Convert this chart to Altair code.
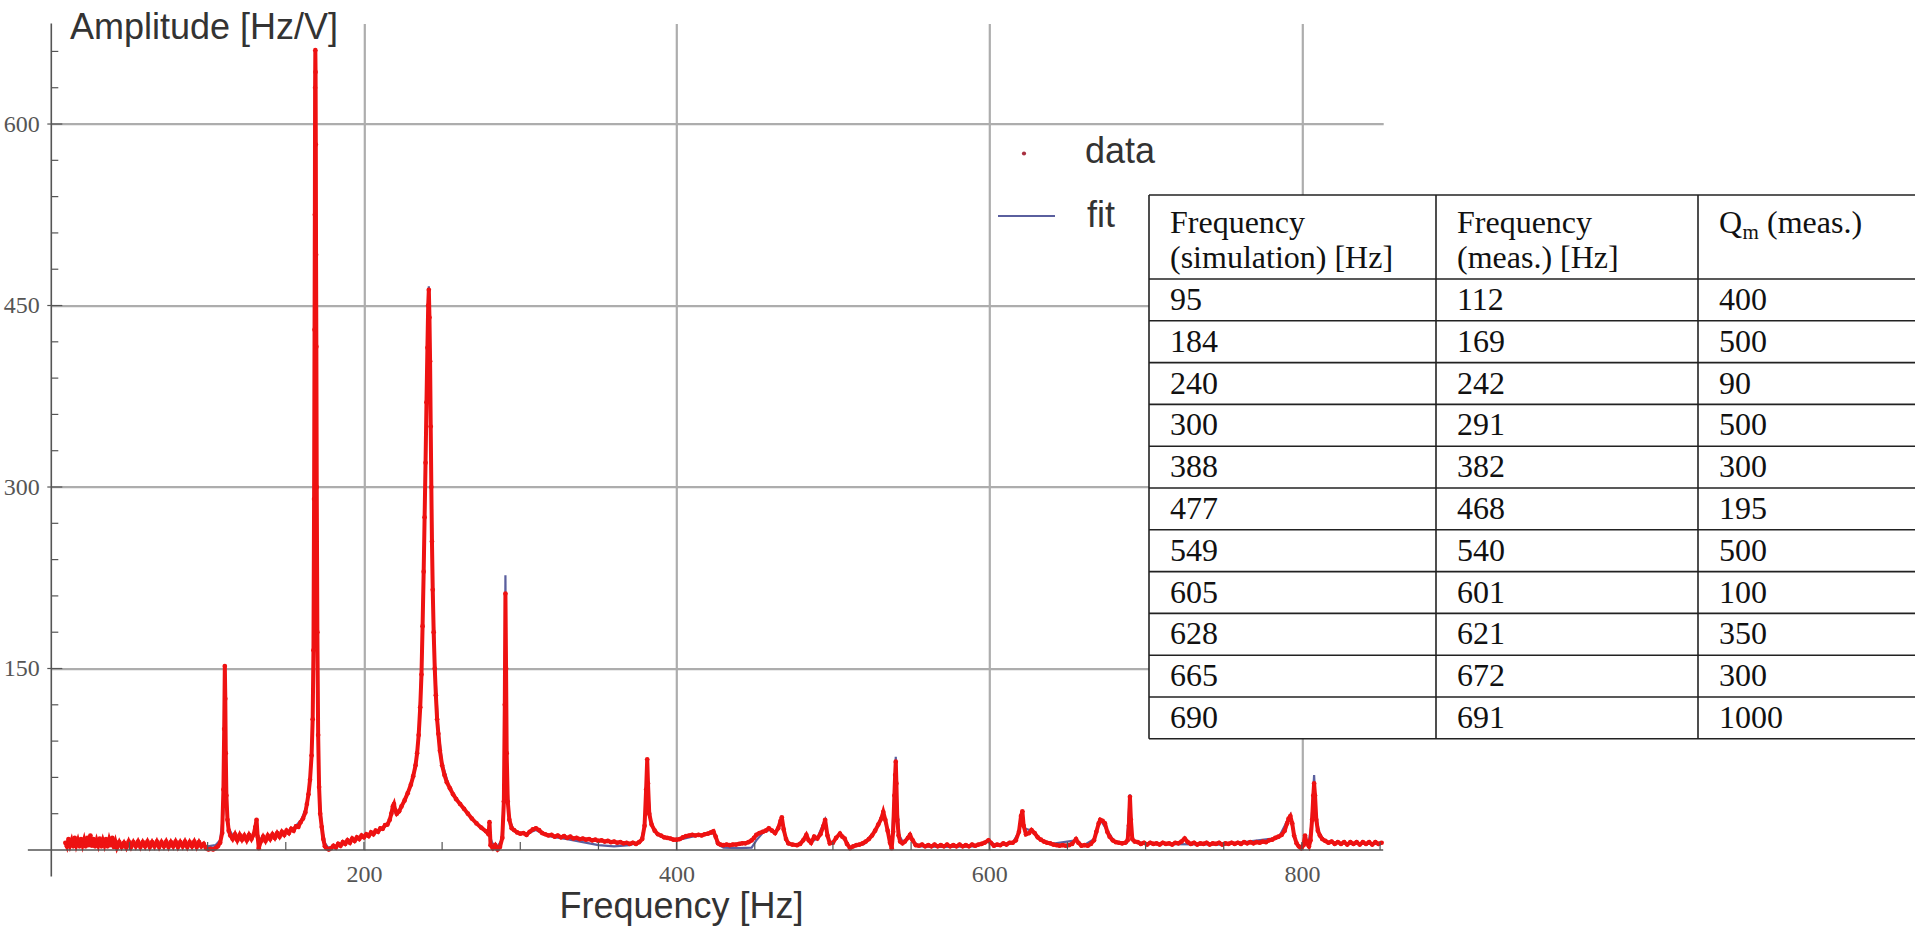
import altair as alt
import pandas as pd

# ---------------- data ----------------
data_freq = [
    9, 10, 11, 12, 13, 14, 15, 16, 17, 18,
    19, 20, 21, 22, 23, 24, 25, 26, 27, 28,
    29, 30, 31, 32, 33, 34, 35, 36, 37, 38,
    39, 40, 41, 42, 43.5, 45, 46.5, 48, 49.5, 51,
    52.5, 54, 55.5, 57, 58.5, 60, 61.5, 63, 64.5, 66,
    67.5, 69, 70.5, 72, 73.5, 75, 76.5, 78, 79.5, 81,
    82.5, 84, 85.5, 87, 88.5, 90, 91.5, 93, 94.5, 96,
    97.5, 99,
    100.5, 102, 103.5, 105, 106.5, 108, 109.3, 110.1, 110.6, 111,
    111.3, 111.6, 112, 112.7, 113.5, 114.5, 116, 117.5, 119, 120.5,
    122, 123.5, 125, 126.5, 128, 129.5, 130.5, 131.3, 132, 132.7,
    134, 135.5, 137, 138.5, 140, 141.5, 143, 144.5, 146, 147.5,
    149, 150.5, 152, 153.5, 155, 156.5, 158, 159.5, 161, 162.5,
    163.5, 164.5, 165.5, 166.5, 167.2, 167.7, 168.1, 168.4, 168.6, 168.75,
    168.9, 169.05, 169.2, 169.35, 169.55, 169.8, 170.2, 170.7, 171.3, 172,
    173, 174, 175, 176, 177.5, 179, 180.5, 182, 183.5, 185,
    186.5, 188, 189.5, 191, 192.5, 194, 195.5, 197, 198.5, 200,
    201.5, 203, 204.5, 206, 207.5, 209, 210.5, 212, 213.5, 215,
    216.5, 217.5, 218.5, 219.2, 220, 221, 222.5, 224, 226, 228,
    230, 231.5, 233, 234, 235, 236, 236.8, 237.5, 238.2, 238.8,
    239.4, 240, 240.6, 241.1, 241.5, 241.9, 242.3, 242.7, 243.1, 243.5,
    244, 244.6, 245.3, 246, 246.8, 247.6, 248.6, 250, 251.5, 253,
    255, 257, 259, 261.5, 264, 266.5, 269, 272, 275, 278,
    279.7, 280.3, 281, 282.5, 284, 285.5, 287, 288.5, 289.5, 290.1,
    290.5, 290.9, 291.3, 292, 293, 294.5, 296, 298, 300, 302,
    304, 306, 308, 310, 312, 314, 316, 318, 320, 322,
    324, 326, 328, 330, 332, 334, 336, 338, 340, 342,
    344, 346, 348, 350, 352, 354, 356, 358, 360, 362,
    364, 366, 368, 370, 372, 374, 376, 378, 379.5, 380.5,
    381.2, 381.7, 382.5, 384, 386, 388, 390, 392, 394, 396,
    398, 400, 402, 404, 406, 408, 410, 412, 414, 416,
    418, 420, 422, 423.5, 425, 426.5, 428, 430, 432, 434,
    436, 438, 440, 442, 444, 446, 448, 449.5, 451, 453,
    455, 457, 459, 461, 463, 465, 466.5, 467.3, 468.5, 470,
    471.5, 474, 477, 479, 481, 483, 484.5, 486, 488, 490,
    492, 494, 495, 496.5, 498, 500, 502, 504.5, 506, 507.5,
    509, 511, 513, 515, 517, 519, 521, 523, 525, 527,
    529, 531, 532.2, 533.5, 535, 536.5, 537.6, 538.5, 539.3, 539.8,
    540.2, 540.6, 541.2, 542, 543, 544.5, 546, 548, 549.3, 551,
    553, 555, 557, 559, 561, 563, 565, 567, 569, 571,
    573, 575, 577, 579, 581, 583, 585, 587, 589, 591,
    593, 595, 597, 599.5, 601, 603, 605, 607, 609, 611,
    613, 615, 617, 619, 620.3, 621.2, 622, 623.5, 625.5, 627,
    629, 631, 633, 635, 637, 639, 641, 643, 645, 647,
    649, 651, 653, 655.5, 657, 659, 661, 663, 665, 667,
    668.5, 670, 671, 672.5, 674, 675.5, 677, 679, 681, 683,
    685, 687, 688.5, 689.3, 690, 690.6, 691.5, 693, 695, 697,
    699, 701, 703, 705, 707, 709, 711, 713, 715, 717,
    719, 721, 723, 725, 727, 729, 731, 733, 735, 737,
    739, 741, 743, 745, 747, 749, 751, 753, 755, 757,
    759, 761, 763, 765, 767, 769, 771, 773, 775, 777,
    779, 781, 783, 785, 787, 789, 790.5, 791.5, 792.6, 793.8,
    795, 796.6, 798, 799.5, 801, 802, 803, 804.5, 805.5, 806.5,
    807.3, 807.8, 808.4, 809.2, 810.2, 811.5, 813, 815, 817, 819,
    821, 823, 825, 827, 829, 831, 833, 835, 837, 839,
    841, 843, 845, 847, 849, 851,
]
data_amp = [
    6, 3, 9, 4, 8, 3, 10, 4, 8, 3,
    9, 4, 8.5, 3, 10, 4, 12, 3.5, 9, 3,
    8, 4, 9.5, 3, 8, 4, 9, 3, 8.5, 4,
    10, 2.5, 7, 2, 6.5, 2.5, 6, 2, 7, 2.5,
    6.5, 3, 7, 2.5, 6.5, 3, 7, 2.5, 6.5, 3,
    7, 2.5, 6.5, 3, 7, 2.5, 6.5, 3, 7, 2.5,
    6.5, 3, 7, 2.5, 6.5, 3, 7, 2.5, 6.5, 3,
    5, 1.5,
    0.5, 1, 0.5, 1.5, 3, 6, 14, 50, 100, 152,
    125, 80, 45, 25, 16, 12, 9, 13, 8, 12.5,
    8.5, 12, 8, 12.5, 9, 13, 19, 25, 11, 1.5,
    7, 11, 7.5, 12, 9, 13, 10, 14, 11, 15,
    12.5, 16, 14, 17.5, 16, 19.5, 19, 23, 26, 31,
    38, 46, 58, 78, 108, 165, 290, 430, 525, 630,
    661, 643, 583, 492, 416, 300, 180, 95, 52, 30,
    19, 9, 3, 1.5, 0.5, 1.5, 3.5, 2, 5, 3.5,
    6.5, 5, 8, 6, 9.5, 7.5, 10.5, 9, 12, 10.5,
    13, 11.5, 14.5, 13, 16, 15, 18, 17.5, 20.5, 21,
    25, 30, 36, 38, 33, 30, 32, 36, 41, 47,
    54, 61, 70, 80, 95, 118, 145, 185, 230, 275,
    320, 370, 415, 450, 463, 440, 404, 350, 300, 255,
    215, 180, 150, 128, 108, 96, 82, 70, 62, 56,
    51, 46, 42, 38, 34, 30, 26, 22, 18.5, 15.5,
    13, 23, 4, 1.5, 4, 0.5, 2.5, 10, 40, 120,
    212, 150, 80, 40, 25, 18, 16.5, 14.5, 13.5, 14,
    12.5, 15, 17, 18, 16.5, 14, 13, 12, 12.5, 11,
    12, 10.5, 11.5, 10, 11, 9.5, 10, 9, 9.5, 8.5,
    9, 8, 8.5, 7.5, 8, 7, 7.5, 6.5, 7, 6,
    6.5, 5.5, 6, 5, 6, 5, 6.5, 9, 20, 50,
    75, 55, 30, 21, 16, 13, 12, 10.5, 10, 9.5,
    8.5, 8.5, 9, 10.5, 11.5, 12, 12.5, 12, 12.5, 12,
    13, 13.5, 14.5, 15.5, 11, 5.5, 4.5, 4, 4.5, 4,
    4.5, 4.5, 5, 5.5, 5.5, 6.5, 8, 10, 12.5, 14,
    15, 16, 18, 16, 14, 18, 24, 27, 17, 9,
    5.5, 4.5, 4, 5, 8, 12.5, 8, 6, 11, 9.5,
    13, 20, 25, 12, 5.5, 6, 10, 13.5, 11, 9.5,
    5, 1.5, 3, 4, 4.5, 5.5, 7, 9, 12, 16,
    21, 26, 31.5, 25, 16, 6, 1.5, 15, 45, 62,
    73, 55, 25, 12, 7, 5.5, 7, 10, 12.5, 8,
    4, 3.5, 4.5, 3, 4, 3, 4.5, 3, 4, 3,
    4.5, 3, 4, 3, 4.5, 3, 4, 3, 4.5, 3.5,
    4.5, 5, 6, 8, 6, 3.5, 4.5, 4, 5.5, 4.5,
    6, 6, 8, 15, 28, 32, 20, 13, 14, 16.5,
    14, 10.5, 8.5, 7, 6, 5.5, 4.5, 4, 3.5, 4,
    3.5, 4, 5, 9, 6, 3.5, 4, 3.5, 5, 8,
    15, 22, 25, 24, 22, 15, 11, 8, 6.5, 6,
    5.5, 6, 8, 20, 44, 25, 9, 7, 6.5, 5,
    6, 4.5, 6, 5, 5.5, 4.5, 6, 5, 5.5, 4.5,
    6, 5.5, 7, 9.5, 6.5, 5, 6, 4.5, 5.5, 5,
    6, 4.5, 5.5, 5, 6, 4.5, 5.5, 5, 6, 5,
    6, 5, 6.5, 5.5, 6.5, 5.5, 6.5, 6, 7, 6.5,
    8, 8.5, 10, 11, 12.5, 16, 22, 26, 28, 22,
    12, 5.5, 3, 1.5, 4, 12, 6, 3, 8, 25,
    45, 55, 45, 25, 16, 12, 9, 7.5, 6, 7,
    5, 6.5, 5, 6.5, 4.5, 6.5, 5, 6.5, 4.5, 6.5,
    5, 6.5, 4.5, 6.5, 5, 6,
]

fit_freq = [
    9, 30, 60, 95, 100, 105, 108, 110, 110.7, 111.1,
    111.5, 112.2, 113.5, 116, 120, 125, 129, 130.5, 131.3, 132.2,
    135, 140, 145, 150, 155, 160, 163, 165, 166.5, 167.5,
    168.2, 168.6, 168.9, 169.2, 169.6, 170.2, 171, 172, 173.5, 175,
    177, 180, 185, 190, 195, 200, 205, 210, 215, 218,
    219, 220.5, 223, 226, 230, 233, 235, 237, 238.5, 240,
    241, 241.5, 242, 243, 244, 245.5, 247.5, 250, 255, 260,
    265, 270, 275, 280, 282, 285, 288, 289.5, 290.2, 290.5,
    290.9, 291.5, 293, 296, 300, 305, 310, 315, 320, 330,
    340, 350, 360, 370, 377, 379.5, 380.7, 381.3, 382, 383.5,
    386, 390, 400, 410, 420, 424, 426, 430, 440, 448,
    451, 455, 460, 463, 466, 467.3, 468.5, 471, 477, 483,
    486, 490, 495, 497, 500, 504, 508, 511, 520, 528,
    532, 535, 537.5, 539, 540.2, 541, 542.5, 545, 549, 552,
    556, 570, 590, 600, 605, 615, 619, 621, 622.5, 627,
    631, 640, 655, 660, 667, 671, 675, 680, 688, 690,
    691.5, 700, 750, 785, 791, 792.6, 794.5, 797, 800, 802,
    804, 806, 807.8, 809, 811, 815, 830, 851,
]
fit_amp = [
    5, 5, 4.5, 4, 3, 4, 8, 30, 95, 150,
    90, 35, 18, 12, 10, 10, 11, 16, 22, 10,
    9, 10.5, 12, 14.5, 18, 25, 35, 50, 75, 130,
    300, 520, 652, 520, 330, 160, 70, 35, 15, 6,
    2, 2.5, 5, 7, 9, 11, 13.5, 16, 21, 30,
    35, 30, 34, 40, 53, 68, 92, 160, 255, 370,
    445, 466, 445, 320, 220, 150, 100, 72, 50, 40,
    32, 25, 19, 14, 6, 2, 8, 40, 150, 227,
    140, 60, 25, 16, 13.5, 14, 16.5, 13, 11, 9,
    6.5, 4, 3, 4, 7, 20, 60, 76, 45, 22,
    15, 11, 8, 11, 13, 14, 5, 2, 1.5, 2,
    8, 14, 17, 14, 22, 28, 15, 5, 3.5, 11,
    6, 10, 25, 8, 6, 13, 8, 2, 5, 18,
    31, 15, 3, 40, 77, 40, 12, 6, 12, 6,
    3, 2.5, 3, 7, 3.5, 6, 15, 33, 18, 16,
    10, 5, 8, 3.5, 9, 25, 17, 7, 6, 46,
    8, 5, 4.5, 10, 25, 29, 15, 4, 2, 10,
    4, 20, 62, 30, 14, 7, 5, 5,
]
assert len(data_freq) == len(data_amp)
assert len(fit_freq) == len(fit_amp)

x_label_values = [200, 400, 600, 800]
y_label_values = [150, 300, 450, 600]
x_tick_values = [50, 100, 150, 200, 250, 300, 350, 400, 450, 500,
                 550, 600, 650, 700, 750, 800, 850]
y_minor_ticks = [30, 60, 90, 120, 180, 210, 240, 270, 330, 360, 390, 420,
                 480, 510, 540, 570, 630, 660]
y_major_ticks = [150, 300, 450, 600]

legend_labels = ["data", "fit"]

header_col1 = ["Frequency", "(simulation) [Hz]"]
header_col2 = ["Frequency", "(meas.) [Hz]"]
header_col3 = ["Q", "m", "(meas.)"]
sim_freq = ["95", "184", "240", "300", "388", "477", "549", "605", "628", "665", "690"]
meas_freq = ["112", "169", "242", "291", "382", "468", "540", "601", "621", "672", "691"]
q_meas = ["400", "500", "90", "500", "300", "195", "500", "100", "350", "300", "1000"]

# ---------------- layout / style ----------------
LEFT, TOP = 51.3, 23.6
X_MIN, X_MAX = 0, 852
Y_MIN, Y_MAX = 0, 683
W = round((X_MAX - X_MIN) * 1.5633, 1)
H = round((Y_MAX - Y_MIN) * 1.21, 1)
CANVAS_W, CANVAS_H = 1915, 928

RED = "#ee1212"
FIT = "#5a5f9e"
GRID = "#adadad"
AXIS = "#555555"
TEXT = "#333333"


def cx(v):
    return v - LEFT


def cy(v):
    return v - TOP


x_scale = alt.Scale(domain=[X_MIN, X_MAX], nice=False, zero=False)
y_scale = alt.Scale(domain=[Y_MIN, Y_MAX], nice=False, zero=False)

x_axis = alt.Axis(
    values=x_label_values, grid=True, gridColor=GRID, gridWidth=2.2,
    ticks=False, domain=False, labelFlush=False,
    labelFont="Liberation Serif", labelFontSize=24, labelColor="#555555",
    labelPadding=12,
    titleFont="Liberation Sans", titleFontSize=36, titleFontWeight="normal",
    titleColor=TEXT, titleX=cx(681), titleY=917.5 - (TOP + H),
    titleAlign="center", titleBaseline="alphabetic",
)
y_axis = alt.Axis(
    values=y_label_values, grid=True, gridColor=GRID, gridWidth=2.2,
    ticks=False, domain=False, labelFlush=False,
    labelFont="Liberation Serif", labelFontSize=24, labelColor="#555555",
    labelPadding=12,
    titleFont="Liberation Sans", titleFontSize=36, titleFontWeight="normal",
    titleColor=TEXT, titleAngle=0, titleX=cx(69.5), titleY=cy(38),
    titleAlign="left", titleBaseline="alphabetic",
)


def X(field):
    return alt.X(f"{field}:Q", scale=x_scale, axis=x_axis, title="Frequency [Hz]")


def Y(field):
    return alt.Y(f"{field}:Q", scale=y_scale, axis=y_axis, title="Amplitude [Hz/V]")


def PX(field):
    return alt.X(f"{field}:Q", scale=None)


def PY(field):
    return alt.Y(f"{field}:Q", scale=None)


data_df = pd.DataFrame({"freq": data_freq, "amp": data_amp})
fit_df = pd.DataFrame({"freq": fit_freq, "amp": fit_amp})

fit_line = alt.Chart(fit_df).mark_line(color=FIT, strokeWidth=2.2).encode(x=X("freq"), y=Y("amp"))
data_line = alt.Chart(data_df).mark_line(color=RED, strokeWidth=4).encode(x=X("freq"), y=Y("amp"))
data_pts = alt.Chart(data_df).mark_circle(color=RED, size=22, opacity=1).encode(x=X("freq"), y=Y("amp"))

# axis lines (Mathematica style, crossing at the origin)
xline_df = pd.DataFrame({"freq": [-15], "freq2": [X_MAX], "amp": [0]})
x_axis_line = alt.Chart(xline_df).mark_rule(color=AXIS, strokeWidth=1.6).encode(
    x=X("freq"), x2="freq2:Q", y=Y("amp"))
yline_df = pd.DataFrame({"freq": [0], "amp": [-22], "amp2": [Y_MAX]})
y_axis_line = alt.Chart(yline_df).mark_rule(color=AXIS, strokeWidth=1.6).encode(
    x=X("freq"), y=Y("amp"), y2="amp2:Q")

x_ticks = alt.Chart(pd.DataFrame({"freq": x_tick_values})).mark_rule(
    color=AXIS, strokeWidth=1.2).encode(x=X("freq"), y=alt.value(H), y2=alt.value(H - 8))
y_ticks_minor = alt.Chart(pd.DataFrame({"amp": y_minor_ticks})).mark_rule(
    color=AXIS, strokeWidth=1.2).encode(y=Y("amp"), x=alt.value(0), x2=alt.value(7))
y_ticks_major = alt.Chart(pd.DataFrame({"amp": y_major_ticks})).mark_rule(
    color=AXIS, strokeWidth=1.2).encode(y=Y("amp"), x=alt.value(-4), x2=alt.value(11))

# legend
leg_dot = alt.Chart(pd.DataFrame({"px": [cx(1024)], "py": [cy(153.5)]})).mark_circle(
    color="#a83040", size=18, opacity=1).encode(x=PX("px"), y=PY("py"))
leg_line = alt.Chart(pd.DataFrame({"px": [cx(998)], "px2": [cx(1055)], "py": [cy(216)]})).mark_rule(
    color=FIT, strokeWidth=2).encode(x=PX("px"), x2="px2:Q", y=PY("py"))
leg_text = alt.Chart(pd.DataFrame({"px": [cx(1085), cx(1087)], "py": [cy(163), cy(227)],
                                   "label": legend_labels})).mark_text(
    align="left", baseline="alphabetic", font="Liberation Sans", fontSize=36, color=TEXT
).encode(x=PX("px"), y=PY("py"), text="label:N")

# table overlay
T_COLS = [1149, 1436, 1698]
T_RIGHT = 1965
T_TOP = 195
T_HEAD_BOTTOM = 279
ROW_H = 41.8
n_rows = len(sim_freq)
row_lines = [T_TOP, T_HEAD_BOTTOM] + [T_HEAD_BOTTOM + (i + 1) * ROW_H for i in range(n_rows)]
T_BOTTOM = row_lines[-1]
PAD = 21

tbl_bg = alt.Chart(pd.DataFrame({"px": [cx(T_COLS[0])], "px2": [cx(T_RIGHT)],
                                 "py": [cy(T_TOP)], "py2": [cy(T_BOTTOM)]})).mark_rect(
    fill="white").encode(x=PX("px"), x2="px2:Q", y=PY("py"), y2="py2:Q")
tbl_h = alt.Chart(pd.DataFrame({"px": [cx(T_COLS[0])] * len(row_lines),
                                "px2": [cx(T_RIGHT)] * len(row_lines),
                                "py": [cy(v) for v in row_lines]})).mark_rule(
    color="#222222", strokeWidth=1.6).encode(x=PX("px"), x2="px2:Q", y=PY("py"))
tbl_v = alt.Chart(pd.DataFrame({"px": [cx(c) for c in T_COLS],
                                "py": [cy(T_TOP)] * 3, "py2": [cy(T_BOTTOM)] * 3})).mark_rule(
    color="#222222", strokeWidth=1.6).encode(x=PX("px"), y=PY("py"), y2="py2:Q")

cells_x, cells_y, cells_t = [], [], []
for j, col in enumerate([sim_freq, meas_freq, q_meas]):
    for i, val in enumerate(col):
        cells_x.append(cx(T_COLS[j] + PAD))
        cells_y.append(cy(T_HEAD_BOTTOM + i * ROW_H + 31))
        cells_t.append(val)
for j, hdr in enumerate([header_col1, header_col2]):
    for k, line in enumerate(hdr):
        cells_x.append(cx(T_COLS[j] + PAD))
        cells_y.append(cy(T_TOP + 38 + k * 35))
        cells_t.append(line)
cells_x += [cx(T_COLS[2] + PAD), cx(T_COLS[2] + PAD + 48)]
cells_y += [cy(T_TOP + 38), cy(T_TOP + 38)]
cells_t += [header_col3[0], header_col3[2]]

tbl_text = alt.Chart(pd.DataFrame({"px": cells_x, "py": cells_y, "t": cells_t})).mark_text(
    align="left", baseline="alphabetic", font="Liberation Serif", fontSize=32, color="#111111"
).encode(x=PX("px"), y=PY("py"), text="t:N")
tbl_sub = alt.Chart(pd.DataFrame({"px": [cx(T_COLS[2] + PAD + 23.5)], "py": [cy(T_TOP + 44)],
                                  "t": [header_col3[1]]})).mark_text(
    align="left", baseline="alphabetic", font="Liberation Serif", fontSize=21, color="#111111"
).encode(x=PX("px"), y=PY("py"), text="t:N")

chart = alt.layer(
    fit_line, data_line, data_pts,
    x_axis_line, y_axis_line, x_ticks, y_ticks_minor, y_ticks_major,
    leg_dot, leg_line, leg_text,
    tbl_bg, tbl_h, tbl_v, tbl_text, tbl_sub,
).properties(
    width=W, height=H,
    padding={"left": LEFT, "top": TOP, "right": CANVAS_W - LEFT - W, "bottom": CANVAS_H - TOP - H},
    autosize=alt.AutoSizeParams(type="none"),
    background="white",
).configure_view(stroke=None)

chart.save("out.html", embed_options={"renderer": "svg", "actions": False})
